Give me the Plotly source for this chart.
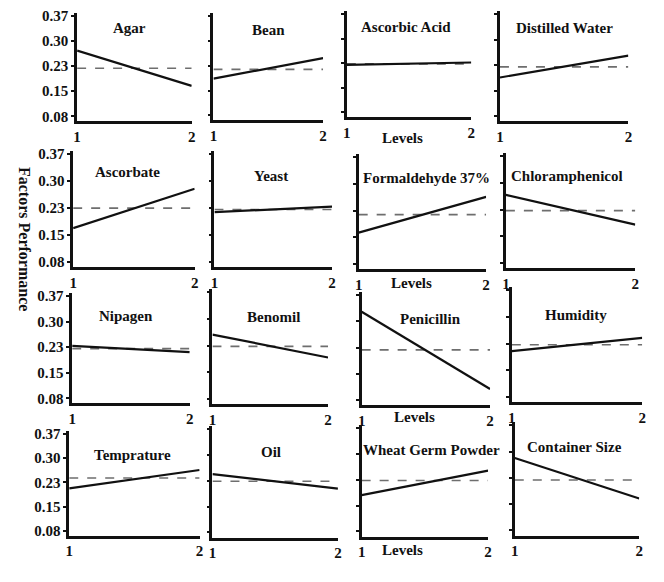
import plotly.graph_objects as go

W, H = 664, 582

# ---------------- data ----------------
factors = ["Agar", "Bean", "Ascorbic Acid", "Distilled Water",
           "Ascorbate", "Yeast", "Formaldehyde 37%", "Chloramphenicol",
           "Nipagen", "Benomil", "Penicillin", "Humidity",
           "Temprature", "Oil", "Wheat Germ Powder", "Container Size"]
levels = [1, 2]
level_labels = ["1", "2"]
level1 = [0.270, 0.187, 0.220, 0.190,
          0.171, 0.214, 0.165, 0.265,
          0.229, 0.255, 0.324, 0.205,
          0.207, 0.244, 0.182, 0.280]
level2 = [0.168, 0.247, 0.227, 0.252,
          0.277, 0.229, 0.262, 0.184,
          0.211, 0.193, 0.111, 0.241,
          0.262, 0.203, 0.251, 0.168]
mean_line = [0.219, 0.214, 0.223, 0.220,
             0.225, 0.221, 0.214, 0.222,
             0.221, 0.223, 0.219, 0.222,
             0.238, 0.224, 0.223, 0.219]
y_tickvals = [0.08, 0.1525, 0.225, 0.2975, 0.37]
y_ticktext = ["0.08", "0.15", "0.23", "0.30", "0.37"]

# ---------------- layout geometry (pixels) ----------------
# x0, x1, ytop, ybottom of each panel's axes
panels = [
    (74, 190, 8, 118), (212, 323, 8, 117), (347, 473, 6, 114), (502, 632, 6, 118),
    (70, 193, 148, 266), (213, 332, 148, 266), (359, 488, 151, 268), (508, 639, 150, 267),
    (69, 188, 292, 404), (211, 328, 288, 405), (362, 492, 291, 406), (514, 646, 286, 403),
    (66, 198, 432, 538), (211, 338, 427, 540), (362, 490, 426, 539), (517, 643, 423, 538),
]
title_pos = [
    (127, 23), (268, 25), (407, 22), (567, 23),
    (125, 169), (270, 173), (428, 175), (570, 173),
    (123, 315), (273, 316), (432, 318), (579, 314),
    (130, 456), (270, 453), (433, 451), (577, 448),
]
levels_pos = [(403, 135), (412, 282), (415, 418), (403, 553)]

SERIF = "Liberation Serif"

fig = go.Figure()
annotations = []
layout_axes = {}

for i, name in enumerate(factors):
    n = i + 1
    xa = "x" if n == 1 else f"x{n}"
    ya = "y" if n == 1 else f"y{n}"
    fig.add_trace(go.Scatter(x=levels, y=[mean_line[i], mean_line[i]], mode="lines",
                             line=dict(color="#6e6e6e", width=1.6, dash="dash"),
                             xaxis=xa, yaxis=ya, showlegend=False, hoverinfo="skip"))
    fig.add_trace(go.Scatter(x=levels, y=[level1[i], level2[i]], mode="lines",
                             line=dict(color="#111111", width=2.2),
                             xaxis=xa, yaxis=ya, showlegend=False))
    x0, x1, yt, yb = panels[i]
    col = i % 4
    layout_axes[f"xaxis{'' if n == 1 else n}"] = dict(
        domain=[x0 / W, x1 / W], anchor=ya, range=[1, 2],
        tickvals=levels, ticktext=[f"<b>{t}</b>" for t in level_labels], ticks="",
        showline=True, linecolor="#111111", linewidth=2.5,
        showgrid=False, zeroline=False,
        tickfont=dict(family=SERIF, size=15, color="#111111"),
        fixedrange=True,
    )
    layout_axes[f"yaxis{'' if n == 1 else n}"] = dict(
        domain=[1 - yb / H, 1 - yt / H], anchor=xa, range=[0.0655, 0.3787],
        tickvals=y_tickvals, ticktext=[f"<b>{t}</b>" for t in y_ticktext],
        showticklabels=(col == 0), ticks="outside", ticklen=3, tickwidth=1.5,
        tickcolor="#111111",
        showline=True, linecolor="#111111", linewidth=2.5,
        showgrid=False, zeroline=False,
        tickfont=dict(family=SERIF, size=15, color="#111111"),
        fixedrange=True,
    )
    tx, ty = title_pos[i]
    annotations.append(dict(x=tx / W, y=1 - ty / H, xref="paper", yref="paper",
                            text=f"<b>{name}</b>", showarrow=False,
                            font=dict(family=SERIF, size=15, color="#111111"),
                            xanchor="center", yanchor="middle"))

for lx, ly in levels_pos:
    annotations.append(dict(x=lx / W, y=1 - ly / H, xref="paper", yref="paper",
                            text="<b>Levels</b>", showarrow=False,
                            font=dict(family=SERIF, size=15, color="#111111"),
                            xanchor="center", yanchor="middle"))

annotations.append(dict(x=21 / W, y=1 - 237 / H, xref="paper", yref="paper",
                        text="<b>Factors Performance</b>", showarrow=False,
                        textangle=90,
                        font=dict(family=SERIF, size=16, color="#111111"),
                        xanchor="center", yanchor="middle"))

fig.update_layout(
    width=W, height=H,
    margin=dict(l=0, r=0, t=0, b=0),
    paper_bgcolor="white", plot_bgcolor="white",
    annotations=annotations,
    **layout_axes,
)

fig.write_html("out.html", config={"displayModeBar": False},
               post_script="document.body.style.margin='0';document.body.style.overflow='hidden';")
